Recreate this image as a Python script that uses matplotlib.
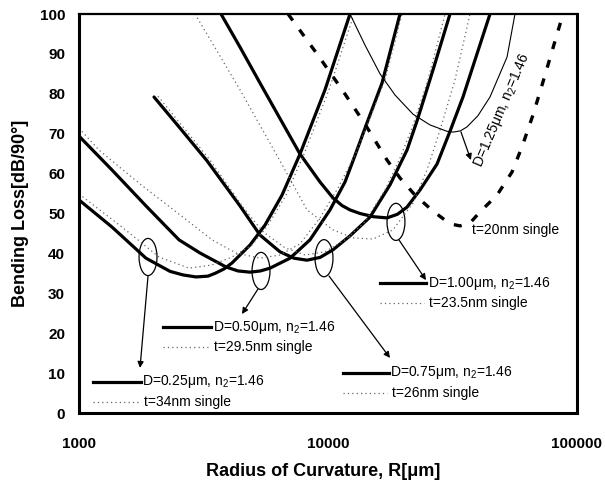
import matplotlib
matplotlib.use("Agg")
import matplotlib.pyplot as plt
from matplotlib.patches import Ellipse

plt.rcParams["font.family"] = ["Liberation Sans", "DejaVu Sans"]
plt.rcParams["mathtext.default"] = "regular"

# values (R in um, loss in dB/90deg)
d025_r = [1000, 1357, 1858, 2320, 2617, 2951, 3296, 3518, 3822, 4116, 4862, 5585, 6535,
          7719, 9727, 12255]
d025_loss = [53.4, 46.6, 38.8, 35.5, 34.6, 34.1, 34.3, 35.0, 36.1, 37.6, 42.1, 47.1,
             54.6, 64.9, 81.0, 100]
t34_r = [1000, 1488, 2096, 2766, 3421, 4116, 4953, 5741, 6783, 8010, 10090, 12720]
t34_loss = [54.9, 46.6, 39.1, 36.3, 37.1, 39.1, 42.1, 47.1, 54.6, 64.9, 81.0, 100]

d050_r = [1000, 1357, 1858, 2521, 3062, 3894, 4350, 4862, 5350, 5848, 7039, 8467, 10186,
          11703, 12600, 14476, 16480, 19460]
d050_loss = [69.4, 60.9, 51.9, 43.4, 40.1, 36.6, 35.6, 35.3, 35.6, 36.3, 38.8, 43.4,
             50.9, 57.9, 63.2, 73.4, 82.7, 100]
t295_r = [1000, 1203, 1758, 2766, 3421, 4271, 5332, 6415, 7719, 9288, 10970, 12840,
          14748, 16940, 19830]
t295_loss = [71.4, 65.9, 57.4, 47.9, 43.4, 40.1, 38.8, 39.6, 42.4, 48.9, 56.4, 64.7,
             73.9, 83.5, 100]

d075_r = [2001, 2545, 3267, 4432, 5332, 6415, 7300, 8237, 9300, 10474, 12255, 14748,
          17746, 20766, 22779, 26410, 30900]
d075_loss = [79.2, 71.4, 63.2, 51.9, 44.6, 40.4, 38.8, 38.3, 39.0, 40.9, 44.4, 49.1,
             57.2, 65.9, 73.2, 86.0, 100]
t26_r = [2076, 3358, 4556, 5482, 6720, 8085, 9727, 11703, 14081, 16940, 19460, 21740,
         25210, 29510]
t26_loss = [79.4, 63.4, 51.6, 45.4, 41.4, 39.6, 40.4, 43.4, 47.9, 55.9, 63.9, 71.4,
            83.5, 100]

d100_r = [3718, 4432, 5332, 6415, 7719, 9288, 10474, 11380, 12255, 13445, 15200, 17258,
          19000, 20766, 23420, 27410, 30900, 34840, 39660, 44730]
d100_loss = [100, 91.7, 82.7, 73.8, 64.9, 57.9, 53.9, 52.0, 50.9, 50.0, 49.2, 48.9,
             49.8, 51.6, 55.9, 62.4, 70.6, 79.2, 90.0, 100]
t235_r = [2924, 4432, 6415, 8237, 10474, 12600, 15161, 18236, 21946, 24978, 28180,
          32360, 37180]
t235_loss = [100, 81.0, 63.2, 50.9, 45.9, 43.9, 43.6, 45.9, 52.6, 60.9, 70.9, 83.5, 100]

d125_r = [12255, 14081, 16180, 18583, 21946, 25680, 30060, 31770, 34000, 36150, 40000,
          44730, 52360, 56360]
d125_loss = [100, 92.2, 85.0, 79.7, 74.9, 72.2, 70.6, 70.4, 70.7, 71.7, 74.5, 79.2,
             89.2, 100]
t20_r = [6913, 9033, 11488, 14081, 17258, 19460, 22370, 26410, 30900, 33890, 37180,
         40780, 47720, 54830, 60130, 66570, 73030, 80100, 87870]
t20_loss = [100, 90.0, 80.7, 72.4, 63.4, 58.9, 54.6, 50.6, 47.4, 46.9, 47.6, 50.4,
            54.6, 60.4, 66.7, 74.7, 83.0, 91.5, 100]

x_ticks = [1000, 10000, 100000]
y_ticks = list(range(0, 101, 10))

THICK = dict(color="black", lw=2.3, solid_capstyle="round", solid_joinstyle="round")
DOT = dict(color="#666666", lw=0.9, linestyle=(0, (1, 2.5)))

fig = plt.figure(figsize=(6.05, 4.9), dpi=100)
ax = fig.add_axes([79 / 605, 77 / 490, 498 / 605, 399 / 490])
ax.set_xscale("log")
ax.set_xlim(1000, 100000)
ax.set_ylim(0, 100)

for r, l in [(d025_r, d025_loss), (d050_r, d050_loss), (d075_r, d075_loss),
             (d100_r, d100_loss)]:
    ax.plot(r, l, **THICK)
for r, l in [(t34_r, t34_loss), (t295_r, t295_loss), (t26_r, t26_loss),
             (t235_r, t235_loss)]:
    ax.plot(r, l, **DOT)
ax.plot(d125_r, d125_loss, color="black", lw=0.8)
ax.plot(t20_r, t20_loss, color="black", lw=2.4, linestyle=(0, (2.4, 3.4)))

ax.set_xticks(x_ticks)
ax.set_xticklabels([str(v) for v in x_ticks])
ax.set_yticks(y_ticks)
ax.minorticks_off()
ax.tick_params(length=0, labelsize=11)
ax.tick_params(axis="x", pad=17)
ax.tick_params(axis="y", pad=10)
for lab in ax.get_xticklabels() + ax.get_yticklabels():
    lab.set_fontweight("bold")
for s in ax.spines.values():
    s.set_linewidth(2.2)
ax.spines["top"].set_linewidth(1.6)

ax.set_xlabel("Radius of Curvature, R[\u03bcm]", fontsize=13, fontweight="bold")
ax.xaxis.set_label_coords(0.49, -0.125)
ax.set_ylabel("Bending Loss[dB/90\u00b0]", fontsize=13, fontweight="bold")
ax.yaxis.set_label_coords(-0.1, 0.5)

# ellipses marking each pair
tr = ax.transAxes
for cx, cy in [(0.1386, 0.391), (0.3655, 0.356), (0.492, 0.388), (0.6365, 0.479)]:
    ax.add_patch(Ellipse((cx, cy), 0.036, 0.093, transform=tr, fill=False,
                         ec="black", lw=0.9))

arrows = [((0.1386, 0.3434), (0.1225, 0.113)),
          ((0.3594, 0.3108), (0.3273, 0.248)),
          ((0.502, 0.3434), (0.6245, 0.138)),
          ((0.6426, 0.4336), (0.6968, 0.333)),
          ((0.767, 0.7043), (0.787, 0.634))]
for (x0, y0), (x1, y1) in arrows:
    ax.annotate("", xy=(x1, y1), xytext=(x0, y0), xycoords=tr, textcoords=tr,
                arrowprops=dict(arrowstyle="-|>", color="black", lw=0.9,
                                mutation_scale=9, shrinkA=0, shrinkB=0))

# legend blocks: (line x0, x1, solid y, dotted y, solid text, dotted text)
labels = [(0.0281, 0.1245, 0.0777, 0.0276, "D=0.25\u03bcm, n$_2$=1.46", "t=34nm single"),
          (0.1687, 0.2651, 0.2155, 0.1654, "D=0.50\u03bcm, n$_2$=1.46", "t=29.5nm single"),
          (0.5301, 0.6225, 0.1003, 0.0501, "D=0.75\u03bcm, n$_2$=1.46", "t=26nm single"),
          (0.6044, 0.6968, 0.3258, 0.2757, "D=1.00\u03bcm, n$_2$=1.46", "t=23.5nm single")]
for x0, x1, ys, yd, ts, td in labels:
    ax.plot([x0, x1], [ys, ys], transform=tr, color="black", lw=2.3)
    ax.plot([x0, x1 - 0.005], [yd, yd], transform=tr, **DOT)
    ax.text(x1 + 0.003, ys, ts, transform=tr, fontsize=10, va="center", ha="left")
    ax.text(x1 + 0.006, yd, td, transform=tr, fontsize=10, va="center", ha="left")

ax.text(0.85, 0.76, "D=1.25\u03bcm, n$_2$=1.46", transform=tr, fontsize=10,
        rotation=67, ha="center", va="center")
ax.text(0.789, 0.4586, "t=20nm single", transform=tr, fontsize=10, va="center",
        ha="left")

fig.savefig("out.png", dpi=100, facecolor="white")
